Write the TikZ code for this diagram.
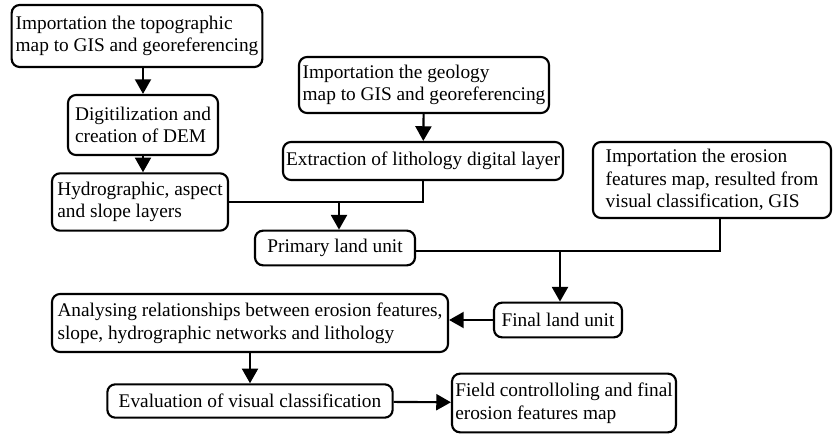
\documentclass[tikz,border=0pt]{standalone}
\usepackage{fontspec}
\setmainfont{Liberation Serif}
\usetikzlibrary{arrows.meta}

\begin{document}
\begin{tikzpicture}[>={Triangle[length=11pt,width=12pt]}, line width=1.6pt, x=0.75pt, y=-0.75pt,
  box/.style={draw, rectangle, rounded corners=6pt, align=left, inner sep=2pt, font=\fontsize{14.5}{17}\selectfont}]
\useasboundingbox (0,0) rectangle (833,435);
\node[box, minimum width=188pt, minimum height=46.5pt] (topo) at (137,36) {Importation the topographic\\map to GIS and georeferencing};
\node[box, minimum width=112.5pt, minimum height=45pt] (digit) at (143,125) {Digitilization and\\creation of DEM};
\node[box, minimum width=132pt, minimum height=43pt] (hydro) at (140,202) {Hydrographic, aspect\\and slope layers};
\node[box, minimum width=187.5pt, minimum height=42pt] (geo) at (424,85) {Importation the geology\\map to GIS and georeferencing};
\node[box, minimum width=210pt, minimum height=28.5pt] (extr) at (423,161) {Extraction of lithology digital layer};
\node[box, minimum width=178.5pt, minimum height=57pt] (eros) at (712,180) {Importation the erosion\\features map, resulted from\\visual classification, GIS};
\node[box, minimum width=120pt, minimum height=26pt] (prim) at (335,248) {Primary land unit};
\node[box, minimum width=96pt, minimum height=26pt] (final) at (558,320) {Final land unit};
\node[box, minimum width=297pt, minimum height=43.5pt] (anal) at (250,323) {Analysing relationships between erosion features,\\slope, hydrographic networks and lithology};
\node[box, minimum width=214pt, minimum height=25pt] (eval) at (250,401) {Evaluation of visual classification};
\node[box, minimum width=168pt, minimum height=44pt] (field) at (564,403) {Field controlloling and final\\erosion features map};
\coordinate (j1) at (339,202);
\coordinate (j2) at (560,251);
\coordinate (j3) at (720,251);
% left column
\draw[->] (topo.south -| digit) -- (digit);
\draw[->] (digit) -- (digit |- hydro.north);
\draw[->] (geo) -- (extr);
% merge into the land units
\draw (hydro) -- (j1);
\draw (extr) |- (j1);
\draw[->] (j1) -- (j1 |- prim.north);
\draw (prim.east |- j2) -- (j3) -- (j3 |- eros.south);
\draw[->] (j2) -- (j2 |- final.north);
\draw[->] (final) -- (final -| anal.east);
\draw[->] (anal) -- (eval);
\draw[->] (eval) -- (field);
\end{tikzpicture}
\end{document}
